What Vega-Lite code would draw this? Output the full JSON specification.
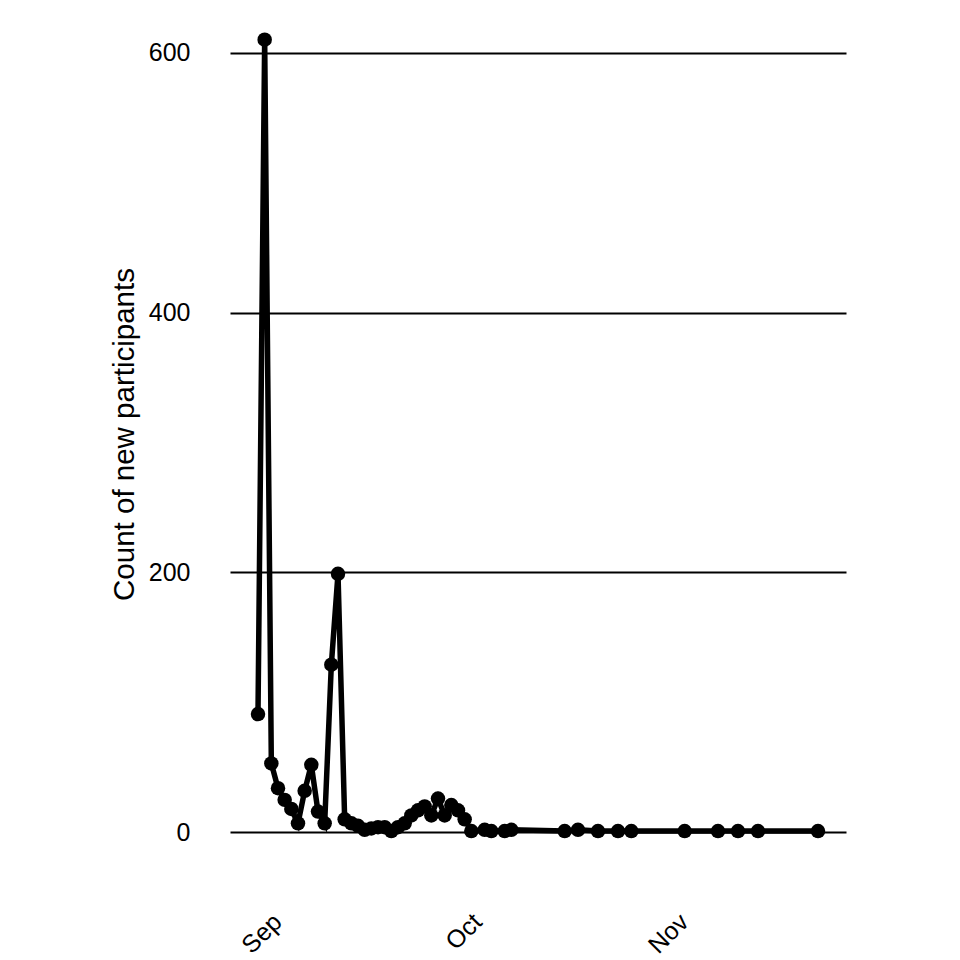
{
  "$schema": "https://vega.github.io/schema/vega-lite/v6.json",
  "autosize": "none",
  "width": 616,
  "height": 872,
  "padding": {"left": 230, "top": 0, "right": 114, "bottom": 88},
  "background": "white",
  "config": {
    "view": {"stroke": null},
    "font": "Liberation Sans"
  },
  "data": {
    "values": [
      {"date": "2020-08-28", "count": 91},
      {"date": "2020-08-29", "count": 610},
      {"date": "2020-08-30", "count": 53},
      {"date": "2020-08-31", "count": 34},
      {"date": "2020-09-01", "count": 25},
      {"date": "2020-09-02", "count": 18},
      {"date": "2020-09-03", "count": 7},
      {"date": "2020-09-04", "count": 32},
      {"date": "2020-09-05", "count": 52},
      {"date": "2020-09-06", "count": 16},
      {"date": "2020-09-07", "count": 7},
      {"date": "2020-09-08", "count": 129},
      {"date": "2020-09-09", "count": 199},
      {"date": "2020-09-10", "count": 10},
      {"date": "2020-09-11", "count": 7},
      {"date": "2020-09-12", "count": 5},
      {"date": "2020-09-13", "count": 2},
      {"date": "2020-09-14", "count": 3},
      {"date": "2020-09-15", "count": 4},
      {"date": "2020-09-16", "count": 4},
      {"date": "2020-09-17", "count": 1},
      {"date": "2020-09-18", "count": 4},
      {"date": "2020-09-19", "count": 7},
      {"date": "2020-09-20", "count": 13},
      {"date": "2020-09-21", "count": 17},
      {"date": "2020-09-22", "count": 20},
      {"date": "2020-09-23", "count": 13},
      {"date": "2020-09-24", "count": 26},
      {"date": "2020-09-25", "count": 13},
      {"date": "2020-09-26", "count": 21},
      {"date": "2020-09-27", "count": 17},
      {"date": "2020-09-28", "count": 10},
      {"date": "2020-09-29", "count": 1},
      {"date": "2020-10-01", "count": 2},
      {"date": "2020-10-02", "count": 1},
      {"date": "2020-10-04", "count": 1},
      {"date": "2020-10-05", "count": 2},
      {"date": "2020-10-13", "count": 1},
      {"date": "2020-10-15", "count": 2},
      {"date": "2020-10-18", "count": 1},
      {"date": "2020-10-21", "count": 1},
      {"date": "2020-10-23", "count": 1},
      {"date": "2020-10-31", "count": 1},
      {"date": "2020-11-05", "count": 1},
      {"date": "2020-11-08", "count": 1},
      {"date": "2020-11-11", "count": 1},
      {"date": "2020-11-20", "count": 1}
    ]
  },
  "encoding": {
    "x": {
      "field": "date",
      "type": "temporal",
      "scale": {
        "type": "utc",
        "nice": false,
        "domain": [
          {"year": 2020, "month": 8, "date": 23, "hours": 19, "minutes": 12, "utc": true},
          {"year": 2020, "month": 11, "date": 24, "hours": 4, "minutes": 48, "utc": true}
        ]
      },
      "axis": {
        "values": [
          {"year": 2020, "month": 9, "date": 1, "utc": true},
          {"year": 2020, "month": 10, "date": 1, "utc": true},
          {"year": 2020, "month": 11, "date": 1, "utc": true}
        ],
        "format": "%b",
        "grid": false,
        "domain": false,
        "ticks": false,
        "tickSize": 0,
        "labelAngle": -45,
        "labelAlign": "right",
        "labelBaseline": "top",
        "labelPadding": 37,
        "labelOffset": -16,
        "labelFontSize": 25,
        "labelColor": "black",
        "title": null
      }
    },
    "y": {
      "field": "count",
      "type": "quantitative",
      "scale": {"domain": [-30.5, 640.5], "nice": false, "zero": false},
      "axis": {
        "values": [0, 200, 400, 600],
        "grid": true,
        "gridColor": "black",
        "gridWidth": 2,
        "gridOpacity": 1,
        "domain": false,
        "ticks": false,
        "tickSize": 0,
        "labelPadding": 40,
        "labelFontSize": 25,
        "labelColor": "black",
        "title": "Count of new participants",
        "titleFontSize": 29.5,
        "titleFontWeight": "normal",
        "titleColor": "black",
        "titleAngle": 270,
        "titleAlign": "center",
        "titleBaseline": "alphabetic",
        "titleX": -97,
        "titleY": 434
      }
    }
  },
  "layer": [
    {"mark": {"type": "line", "color": "black", "strokeWidth": 5.5}},
    {"mark": {"type": "point", "filled": true, "color": "black", "opacity": 1, "size": 210}}
  ]
}
